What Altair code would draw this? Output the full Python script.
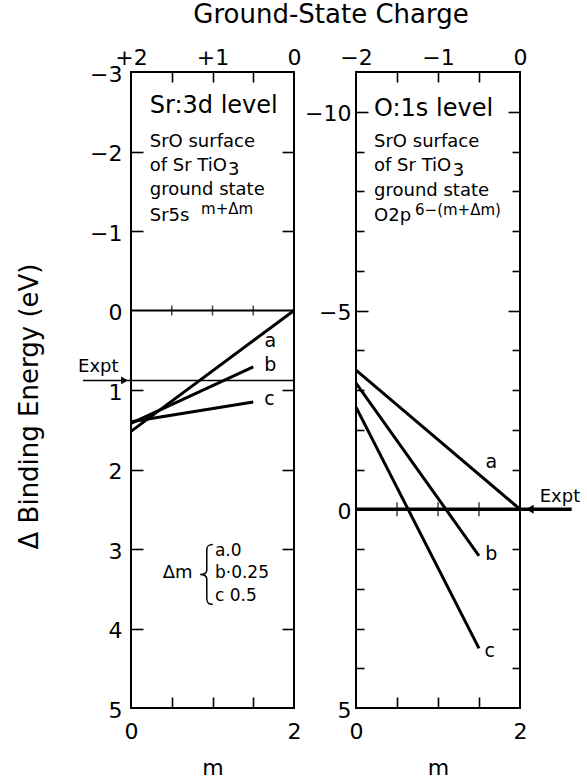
import altair as alt
import pandas as pd

FONT = "DejaVu Sans"

# ---------------- data ----------------
# Sr 3d level: binding-energy shift against m, curves a/b/c
sr_curve = ["a", "a", "b", "b", "c", "c"]
sr_m = [0.0, 2.0, 0.0, 1.5, 0.0, 1.5]
sr_shift = [1.52, 0.0, 1.42, 0.71, 1.40, 1.15]
sr_expt = 0.88

# O 1s level
o_curve = ["a", "a", "b", "b", "c", "c"]
o_m = [0.0, 2.0, 0.0, 1.5, 0.0, 1.5]
o_shift = [-3.5, 0.0, -3.17, 1.17, -2.57, 3.5]
o_expt = 0.0

# Δm legend
dm_keys = ["a", "b", "c"]
dm_text = [".0", "·0.25", " 0.5"]

# axis tick values
m_labels = [0, 1, 2]
m_inner = [0.5, 1.0, 1.5]
sr_y_labels = [-3, -2, -1, 0, 1, 2, 3, 4, 5]
sr_y_inner = [-2, -1, 1, 2, 3, 4]
o_y_labels = [-10, -5, 0, 5]
o_y_inner_major = [-10, -5]
o_y_inner_minor = [-9, -8, -7, -6, -4, -3, -2, -1, 1, 2, 3, 4]

# ---------------- layout ----------------
W_SR, W_O, H = 163, 164, 636
XS = alt.Scale(domain=[0, 2], nice=False, zero=False)


def yscale(dom):
    return alt.Scale(domain=dom, reverse=True, nice=False, zero=False)


def ghost(df, xf, yf, ys, xaxis, yaxis):
    """Invisible layer that only carries an extra pair of axes."""
    return alt.Chart(df).mark_point(opacity=0).encode(
        x=alt.X(xf, scale=XS, axis=xaxis), y=alt.Y(yf, scale=ys, axis=yaxis)
    )


def inner_x(orient, length):
    # an axis moved across the plot so that its ticks point into the frame
    return alt.Axis(orient=orient, offset=-H, values=m_inner, tickSize=length,
                    labels=False, domain=False, title=None, grid=False, tickWidth=1.6)


def inner_y(orient, vals, length, w):
    return alt.Axis(orient=orient, offset=-w, values=vals, tickSize=length,
                    labels=False, domain=False, title=None, grid=False, tickWidth=1.6)


def bottom_axis():
    return alt.Axis(orient="bottom", values=m_labels, format="d", ticks=False, tickSize=0,
                    domain=False, labelFlush=False, labelPadding=30, labelBaseline="alphabetic",
                    title="m", titleBaseline="alphabetic", titleY=66, titleFontSize=22,
                    grid=False)


def top_axis(expr):
    return alt.Axis(orient="top", values=m_labels, labelExpr=expr, ticks=False, tickSize=0,
                    domain=False, labelFlush=False, labelPadding=8, labelBaseline="alphabetic",
                    title=None, grid=False)


def text_layer(df, ys, align="left", baseline="alphabetic"):
    return alt.Chart(df).mark_text(align=align, baseline=baseline, color="black", font=FONT).encode(
        x=alt.X("x:Q", scale=XS, axis=None),
        y=alt.Y("y:Q", scale=ys, axis=None),
        text="t:N",
        size=alt.Size("s:Q", scale=None),
    )


def curves_layer(df, ys, yaxis):
    return alt.Chart(df).mark_line(color="black", strokeWidth=3).encode(
        x=alt.X("m:Q", scale=XS, axis=bottom_axis()),
        y=alt.Y("shift:Q", scale=ys, axis=yaxis),
        detail="curve:N",
    )


def ticks_at_zero(ys, size):
    return alt.Chart(pd.DataFrame({"x": m_inner, "y": [0] * len(m_inner)})).mark_tick(
        orient="vertical", color="black", size=size, thickness=1.6
    ).encode(x=alt.X("x:Q", scale=XS, axis=None), y=alt.Y("y:Q", scale=ys, axis=None))


BRACE = ("M0.2,-1 C0.05,-1 0,-0.95 0,-0.8 L0,-0.15 C0,-0.05 -0.1,0 -0.22,0 "
         "C-0.1,0 0,0.05 0,0.15 L0,0.8 C0,0.95 0.05,1 0.2,1")

# ---------------- Sr 3d panel ----------------
ys_sr = yscale([-3, 5])
sr_df = pd.DataFrame({"curve": sr_curve, "m": sr_m, "shift": sr_shift})

sr_zero = alt.Chart(pd.DataFrame({"x": [0], "x2": [2], "y": [0]})).mark_rule(
    color="black", strokeWidth=1.8
).encode(x=alt.X("x:Q", scale=XS, axis=None), x2="x2:Q", y=alt.Y("y:Q", scale=ys_sr, axis=None))

sr_expt_rule = alt.Chart(pd.DataFrame({"x": [-0.59], "x2": [2], "y": [sr_expt]})).mark_rule(
    color="black", strokeWidth=1.6
).encode(x=alt.X("x:Q", scale=XS, axis=None), x2="x2:Q", y=alt.Y("y:Q", scale=ys_sr, axis=None))

sr_expt_mark = alt.Chart(pd.DataFrame({"x": [-0.08], "y": [sr_expt]})).mark_point(
    shape="triangle-right", filled=True, size=60, color="black", opacity=1
).encode(x=alt.X("x:Q", scale=XS, axis=None), y=alt.Y("y:Q", scale=ys_sr, axis=None))

sr_notes = pd.DataFrame({
    "x": [0.23, 0.23, 0.23, 1.19, 0.23, 0.23, 0.86, -0.65, 0.39],
    "y": [-2.48, -2.06, -1.76, -1.70, -1.45, -1.12, -1.21, 0.77, 3.37],
    "t": ["Sr:3d level", "SrO surface", "of Sr TiO", "3", "ground state", "Sr5s",
          "m+Δm", "Expt", "Δm"],
    "s": [24, 18, 18, 18, 18, 18, 15, 18, 18],
})
sr_legend = pd.DataFrame({
    "x": [1.03] * 3,
    "y": [3.09, 3.37, 3.65],
    "t": [k + v for k, v in zip(dm_keys, dm_text)],
    "s": [17] * 3,
})
sr_curve_labels = pd.DataFrame({
    "x": [1.71, 1.71, 1.70], "y": [0.38, 0.68, 1.11], "t": ["a", "b", "c"], "s": [19] * 3,
})
sr_brace = alt.Chart(pd.DataFrame({"x": [0.93], "y": [3.32]})).mark_point(
    shape=BRACE, size=3600, strokeWidth=1.5, color="black", opacity=1
).encode(x=alt.X("x:Q", scale=XS, axis=None), y=alt.Y("y:Q", scale=ys_sr, axis=None))

sr_yaxis = alt.Axis(orient="left", values=sr_y_labels, format="d", ticks=False, tickSize=0,
                    domain=False, labelPadding=9, labelOffset=2, labelFlush=False, grid=False,
                    title="Δ Binding Energy (eV)", titleX=-94, titleY=334, titleAngle=270,
                    titleBaseline="alphabetic", titleAlign="center", titleFontSize=26)

left = alt.layer(
    sr_zero,
    ticks_at_zero(ys_sr, 10),
    sr_expt_rule,
    sr_expt_mark,
    curves_layer(sr_df, ys_sr, sr_yaxis),
    text_layer(sr_notes, ys_sr),
    text_layer(sr_legend, ys_sr),
    text_layer(sr_curve_labels, ys_sr, align="center", baseline="middle"),
    sr_brace,
    ghost(sr_df, "m:Q", "shift:Q", ys_sr, inner_x("top", 11),
          inner_y("right", sr_y_inner, 12, W_SR)),
    ghost(sr_df, "m:Q", "shift:Q", ys_sr, inner_x("bottom", 10),
          inner_y("left", sr_y_inner, 12, W_SR)),
    ghost(sr_df, "m:Q", "shift:Q", ys_sr,
          top_axis("datum.value == 2 ? '0' : '+' + (2 - datum.value)"), None),
).resolve_axis(x="independent", y="independent").properties(width=W_SR, height=H)

# ---------------- O 1s panel ----------------
ys_o = yscale([-11, 5])
o_df = pd.DataFrame({"curve": o_curve, "m": o_m, "shift": o_shift})

o_expt_rule = alt.Chart(pd.DataFrame({"x": [0], "x2": [2.63], "y": [o_expt]})).mark_rule(
    color="black", strokeWidth=3.5
).encode(x=alt.X("x:Q", scale=XS, axis=None), x2="x2:Q", y=alt.Y("y:Q", scale=ys_o, axis=None))

o_expt_mark = alt.Chart(pd.DataFrame({"x": [2.12], "y": [o_expt]})).mark_point(
    shape="triangle-left", filled=True, size=80, color="black", opacity=1
).encode(x=alt.X("x:Q", scale=XS, axis=None), y=alt.Y("y:Q", scale=ys_o, axis=None))

o_notes = pd.DataFrame({
    "x": [0.22, 0.22, 0.22, 1.18, 0.22, 0.22, 0.72, 2.24],
    "y": [-9.89, -9.11, -8.50, -8.38, -7.87, -7.25, -7.40, -0.17],
    "t": ["O:1s level", "SrO surface", "of Sr TiO", "3", "ground state", "O2p",
          "6−(m+Δm)", "Expt"],
    "s": [24, 18, 18, 18, 18, 18, 15, 18],
})
o_curve_labels = pd.DataFrame({
    "x": [1.65, 1.65, 1.63], "y": [-1.18, 1.13, 3.57], "t": ["a", "b", "c"], "s": [19] * 3,
})

o_yaxis = alt.Axis(orient="left", values=o_y_labels, format="d", ticks=False, tickSize=0,
                   domain=False, labelPadding=5, labelOffset=2, labelFlush=False, grid=False,
                   title=None)

right = alt.layer(
    o_expt_rule,
    ticks_at_zero(ys_o, 14),
    o_expt_mark,
    curves_layer(o_df, ys_o, o_yaxis),
    text_layer(o_notes, ys_o),
    text_layer(o_curve_labels, ys_o, align="center", baseline="middle"),
    ghost(o_df, "m:Q", "shift:Q", ys_o, inner_x("top", 11),
          inner_y("right", o_y_inner_major, 12, W_O)),
    ghost(o_df, "m:Q", "shift:Q", ys_o, inner_x("bottom", 10),
          inner_y("left", o_y_inner_major, 12, W_O)),
    ghost(o_df, "m:Q", "shift:Q", ys_o, None, inner_y("right", o_y_inner_minor, 8, W_O)),
    ghost(o_df, "m:Q", "shift:Q", ys_o, None, inner_y("left", o_y_inner_minor, 8, W_O)),
    ghost(o_df, "m:Q", "shift:Q", ys_o,
          top_axis("datum.value == 2 ? '0' : '−' + (2 - datum.value)"), None),
).resolve_axis(x="independent", y="independent").properties(width=W_O, height=H)

chart = alt.hconcat(left, right, spacing=62, bounds="flush").properties(
    title=alt.TitleParams("Ground-State Charge", font=FONT, fontSize=26, fontWeight="normal",
                          anchor="middle", frame="group", offset=17, dx=200, color="black"),
    padding={"left": 15, "top": 2, "right": 2, "bottom": 4},
).configure_view(
    stroke="black", strokeWidth=2
).configure_axis(
    labelFont=FONT, titleFont=FONT, labelColor="black", titleColor="black", tickColor="black",
    labelFontSize=22, titleFontWeight="normal", grid=False,
).configure_text(font=FONT)

chart.save("out.html", embed_options={"renderer": "svg", "actions": False})
